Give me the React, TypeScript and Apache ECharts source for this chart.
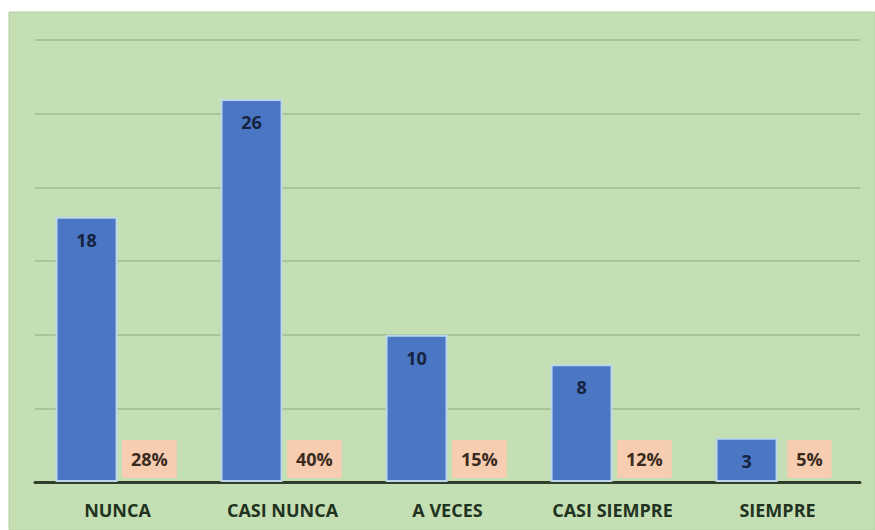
import React, { useEffect, useRef } from "react";
import * as echarts from "echarts";

const categories = ["NUNCA", "CASI NUNCA", "A VECES", "CASI SIEMPRE", "SIEMPRE"];
const counts = [18, 26, 10, 8, 3];
const percents = [28, 40, 15, 12, 5];

export default function App() {
  const ref = useRef<HTMLDivElement>(null);
  useEffect(() => {
    if (!ref.current) return;
    const chart = echarts.init(ref.current, null, { renderer: "svg" });
    chart.setOption({
      animation: false,
      backgroundColor: "#ffffff",
      graphic: [
        {
          type: "rect",
          z: -10,
          silent: true,
          shape: { x: 9, y: 12, width: 866, height: 518 },
          style: { fill: "#c5dfb4", stroke: "#b3cfa3", lineWidth: 1 },
        },
      ],
      grid: { left: 35, right: 15, top: 40, bottom: 48, containLabel: false },
      xAxis: {
        type: "category",
        data: categories,
        axisTick: { show: false },
        axisLine: { show: true, lineStyle: { color: "#2f3f2c", width: 3 } },
        axisLabel: {
          color: "#1f3320",
          fontFamily: "Open Sans",
          fontWeight: "bold",
          fontSize: 18,
          margin: 19,
        },
      },
      yAxis: {
        type: "value",
        min: 0,
        max: 30,
        interval: 5,
        axisLabel: { show: false },
        axisLine: { show: false },
        axisTick: { show: false },
        splitLine: { show: true, lineStyle: { color: "#9dbd8c", width: 1.5 } },
      },
      series: [
        {
          type: "bar",
          data: counts,
          barWidth: 62,
          barGap: "3%",
          itemStyle: { color: "#4a76c4", borderColor: "#bcd8e8", borderWidth: 2 },
          label: {
            show: true,
            position: "insideTop",
            distance: 14,
            color: "#16233f",
            fontFamily: "Open Sans",
            fontWeight: "bold",
            fontSize: 18,
            lineHeight: 18,
          },
        },
        {
          type: "bar",
          data: percents.map((p) => p / 100),
          barWidth: 60,
          itemStyle: { color: "rgba(0,0,0,0)" },
          label: {
            show: true,
            position: "insideBottom",
            distance: 4,
            formatter: (p: any) => percents[p.dataIndex] + "%",
            color: "#3b2a20",
            fontFamily: "Open Sans",
            fontWeight: "bold",
            fontSize: 18,
            lineHeight: 18,
            backgroundColor: "#f6cdb0",
            padding: [10, 9],
          },
        },
      ],
    });
    return () => chart.dispose();
  }, []);
  return (
    <div
      ref={ref}
      style={{ position: "fixed", left: 0, top: 0, width: 875, height: 530 }}
    />
  );
}
